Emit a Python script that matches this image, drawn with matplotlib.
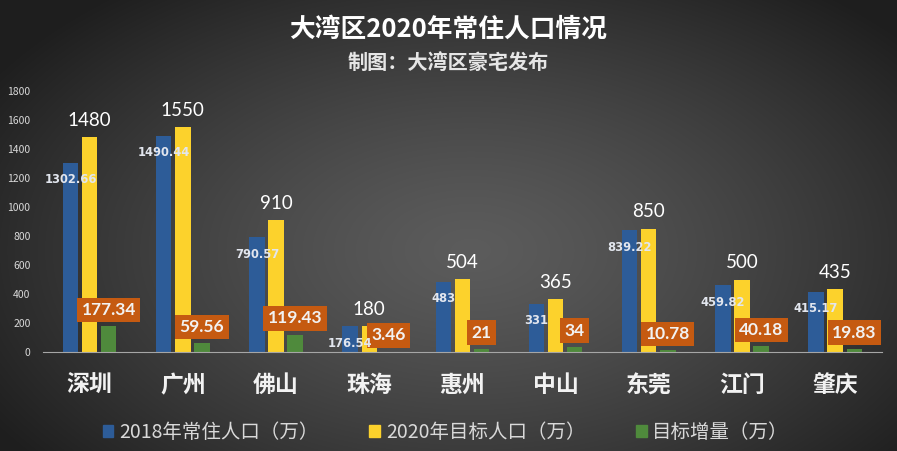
import numpy as np
import matplotlib
matplotlib.use('Agg')
import matplotlib.pyplot as plt
from matplotlib.patches import Patch

plt.rcParams['font.family'] = ['Noto Sans CJK SC', 'DejaVu Sans']

# 数据
cities = ['深圳', '广州', '佛山', '珠海', '惠州', '中山', '东莞', '江门', '肇庆']
pop_2018 = [1302.66, 1490.44, 790.57, 176.54, 483, 331, 839.22, 459.82, 415.17]
target_2020 = [1480, 1550, 910, 180, 504, 365, 850, 500, 435]
increase = [177.34, 59.56, 119.43, 3.46, 21, 34, 10.78, 40.18, 19.83]
series_names = ['2018年常住人口（万）', '2020年目标人口（万）', '目标增量（万）']

c_blue = '#2d5c98'
c_yellow = '#fcd22c'
c_green = '#4f8a3c'
c_box = '#c55a11'
num_font = ['Lato', 'DejaVu Sans']

fig = plt.figure(figsize=(8.97, 4.51), dpi=100)

# 背景径向渐变
bg = fig.add_axes([0, 0, 1, 1])
yy, xx = np.mgrid[0:451, 0:897]
r = np.sqrt(((xx - 470) / 560.0) ** 2 + ((yy - 250) / 330.0) ** 2)
r = np.clip(r, 0, 1)
v = 0.36 - 0.24 * r ** 1.3
bg.imshow(np.dstack([v, v, v]), aspect='auto', extent=[0, 1, 0, 1])
bg.axis('off')

ax = fig.add_axes([0.048, 0.2195, 0.935, 0.5785])
ax.patch.set_alpha(0)
x = np.arange(len(cities))
w = 0.165
off = 0.205

ax.bar(x - off, pop_2018, w, color=c_blue)
ax.bar(x, target_2020, w, color=c_yellow)
ax.bar(x + off, increase, w, color=c_green)

# 标签
for xi, v2 in zip(x, target_2020):
    ax.annotate(f'{v2:g}', (xi, v2), xytext=(0, 6), textcoords='offset points',
                ha='center', va='bottom', fontsize=13.5, color='white', family=num_font)
for xi, v3 in zip(x, increase):
    ax.annotate(f'{v3:g}', (xi + off, v3), xytext=(0, 6), textcoords='offset points',
                ha='center', va='bottom', fontsize=12.5, fontweight='bold', color='#f2f2f2',
                family=num_font,
                bbox=dict(boxstyle='square,pad=0.25', fc=c_box, ec='none'))
for xi, v1 in zip(x, pop_2018):
    ax.annotate(f'{v1:g}', (xi - off, v1), xytext=(0, -12), textcoords='offset points',
                ha='center', va='center', fontsize=8.3, fontweight='bold', color='#e2e6ee',
                family=['DejaVu Sans'], zorder=5)

ax.set_xlim(-0.5, len(cities) - 0.5)
ax.set_ylim(0, 1800)
ax.set_yticks(np.arange(0, 1801, 200))
ax.tick_params(axis='y', length=0, labelsize=7.5, labelcolor='#d9d9d9', pad=9)
ax.set_xticks(x)
ax.set_xticklabels(cities, fontsize=16.5, fontweight='bold', color='#f2f2f2')
ax.tick_params(axis='x', length=0, pad=16)
for s in ['top', 'right', 'left']:
    ax.spines[s].set_visible(False)
ax.spines['bottom'].set_color('#a6a6a6')

fig.text(0.5, 0.935, '大湾区2020年常住人口情况', ha='center', va='center',
         fontsize=18.5, fontweight='bold', color='white')
fig.text(0.5, 0.862, '制图：大湾区豪宅发布', ha='center', va='center',
         fontsize=14.5, fontweight='bold', color='#e6e6e6')

handles = [Patch(color=c_blue), Patch(color=c_yellow), Patch(color=c_green)]
leg = fig.legend(handles, series_names, loc='center', bbox_to_anchor=(0.497, 0.042), ncol=3,
                 frameon=False, fontsize=14, handlelength=0.55, handleheight=0.55,
                 handletextpad=0.3, columnspacing=2.6)
for t in leg.get_texts():
    t.set_color('#d9d9d9')

fig.savefig('out.png', dpi=100)
